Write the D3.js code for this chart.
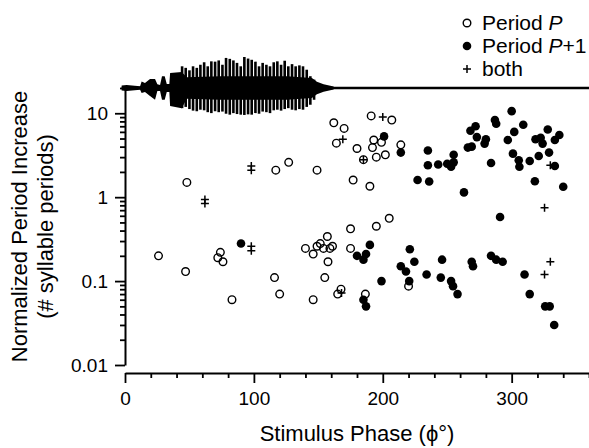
<!DOCTYPE html>
<html lang="en">
    <head>
        <meta charset="utf-8">
        <title>Period increase vs stimulus phase</title>
        <script type="text/javascript" src="https://d3js.org/d3.v7.min.js"></script>
        <style type="text/css">
            body {
                margin: 0;
                background-color: white;
            }
            svg text {
                font-family: "Liberation Sans", Arial, Helvetica, sans-serif;
                fill: black;
            }
            .tick text {
                font-size: 19px;
            }
            .axis_title {
                font-size: 22px;
            }
            .legend_text {
                font-size: 21px;
            }
        </style>
    </head>
    <body>
        <svg width="589" height="448" id="svg1"></svg>

        <script type="text/javascript">

            // open circles: period P  [phase, normalized period increase]
            const periodP = [
                [162, 7.7], [170, 6.6], [164, 4.4], [180, 3.8], [117, 2.1], [127, 2.6], [149, 2.1],
                [177, 1.6], [48, 1.5], [191, 9.3], [207, 8.3], [193, 4.8], [199, 4.5], [192, 3.9],
                [214, 4.2], [185, 2.8], [195, 3.0], [202, 3.2], [190, 1.35], [205, 0.56],
                [26, 0.2], [47, 0.13], [74, 0.22], [72, 0.19], [76, 0.17], [83, 0.06], [116, 0.11],
                [120, 0.07], [140, 0.245], [146, 0.21], [149, 0.26], [151.5, 0.28], [154, 0.245],
                [157, 0.34], [159, 0.245], [161, 0.26], [157.5, 0.17], [155, 0.11], [146, 0.06],
                [175, 0.42], [175, 0.245], [167.6, 0.08], [165, 0.07], [195, 0.45], [220, 0.087],
                [186.5, 0.07]
            ];

            // filled circles: period P+1
            const periodP1 = [
                [201, 5.3], [214, 3.4], [235, 3.6], [235, 2.4], [243, 2.45], [250, 2.5], [255, 3.2],
                [255, 2.6], [253, 2.3], [227, 1.6], [236, 1.54], [263, 1.14], [266, 3.9], [269, 4.0],
                [268, 6.2], [272, 7.0], [273, 5.2], [280, 4.9], [279, 4.35], [287, 8.3], [288, 7.5],
                [300, 10.6], [309, 7.3], [302, 6.0], [297, 4.8], [284, 2.55], [301, 3.3], [305.5, 2.75],
                [306, 2.3], [314, 2.7], [321, 3.1], [329, 3.4], [318.5, 4.9], [322.5, 5.1], [328, 6.4],
                [324, 4.35], [333.5, 4.8], [337, 5.5], [333.5, 2.35], [318, 1.55], [340, 1.33], [291, 0.58],
                [90, 0.28], [190, 0.27], [187, 0.21], [180, 0.2], [185, 0.18], [221, 0.24], [224.5, 0.17],
                [214, 0.15], [218, 0.13], [246, 0.18], [245, 0.11], [234, 0.12], [220.5, 0.1], [199, 0.1],
                [253, 0.1], [254.5, 0.087], [258, 0.07], [269, 0.17], [270, 0.15], [284, 0.2], [288, 0.18],
                [293, 0.17], [310, 0.12], [314, 0.07], [326, 0.05], [329.5, 0.05], [185, 0.06], [187, 0.05],
                [333, 0.03]
            ];

            // crosses: both
            const both = [
                [169, 4.9], [200, 9.0], [98, 2.1], [98, 2.35], [62, 0.84], [62, 0.94], [98, 0.23],
                [98, 0.26], [185, 2.8], [330, 2.4], [325.5, 0.75], [325.5, 0.12], [330, 0.17], [168, 0.072]
            ];

            // axis ticks
            const xMajor = [0, 100, 200, 300];
            const xMinor = [20, 40, 60, 80, 120, 140, 160, 180, 220, 240, 260, 280, 320, 340, 360];
            const yMajor = [0.01, 0.1, 1, 10];

            // stimulus oscillogram drawn on top (phase, amplitude in % of max)
            const envPhase = [-2.6, 1.3, 11.7, 12.9, 15.5, 19.4, 23.3, 25.1, 27.2, 28.7, 30.8, 32.4, 34.4,
                              35.0, 44.0, 47.9, 73.8, 125.6, 145.0, 148.9, 154.1, 161.9];
            const envTop    = [8, 10, 6, 21, 16, 29, 29, 12, 10, 38, 38, 13, 13, 48, 52, 35, 38, 38, 32, 20, 12, 5];
            const envBottom = [8, 10, 6, 16, 13, 26, 38, 10, 10, 38, 38, 13, 13, 58, 65, 35, 38, 38, 32, 20, 12, 5];

            const pulsePhase = [44.3, 47.1, 50.0, 52.8, 55.7, 58.5, 61.4, 64.2, 67.0, 69.9, 72.7, 75.6, 78.4,
                                81.3, 84.1, 86.9, 89.8, 92.6, 95.5, 98.3, 101.2, 104.0, 106.8, 109.7, 112.5,
                                115.4, 118.2, 121.1, 123.9, 126.7, 129.6, 132.4, 135.3, 138.1, 141.0, 143.8, 146.7];
            const pulseTop    = [70, 65, 57, 70, 65, 75, 83, 70, 86, 85, 89, 75, 97, 94, 89, 81, 70, 100, 95,
                                 91, 85, 70, 81, 75, 70, 83, 86, 75, 88, 70, 77, 70, 73, 70, 59, 38, 27];
            const pulseBottom = [65, 61, 68, 73, 75, 70, 72, 78, 81, 75, 78, 76, 83, 86, 81, 84, 86, 87, 85,
                                 86, 81, 83, 76, 78, 81, 72, 70, 73, 68, 65, 70, 72, 68, 70, 61, 54, 38];

            const svg = d3.select("#svg1");

            const x = d3.scaleLinear().domain([0, 360]).range([125, 589]);
            const y = d3.scaleLog().domain([0.01, 20]).range([365, 88]);
            const xAxisY = 373;

            // waveform amplitude scale, centred on the top of the y axis
            const base = y(20);
            const wy = d3.scaleLinear().domain([-100, 100]).range([base + 31, base - 31]);

            // ---- axes ----
            svg.append("g")
                .attr("transform", "translate(125,0)")
                .call(d3.axisLeft(y).tickValues(yMajor).tickFormat(d3.format("~g"))
                    .tickSize(10).tickPadding(7).tickSizeOuter(0));

            svg.append("g")
                .attr("transform", "translate(125,0)")
                .call(d3.axisLeft(y).tickValues(y.ticks().filter(d => yMajor.indexOf(d) < 0))
                    .tickFormat("").tickSize(5).tickSizeOuter(0))
                .select(".domain").remove();

            svg.append("g")
                .attr("transform", "translate(0," + xAxisY + ")")
                .call(d3.axisBottom(x).tickValues(xMajor).tickFormat(d3.format("d"))
                    .tickSize(10).tickPadding(9).tickSizeOuter(0));

            svg.append("g")
                .attr("transform", "translate(0," + xAxisY + ")")
                .call(d3.axisBottom(x).tickValues(xMinor).tickFormat("")
                    .tickSize(5).tickSizeOuter(0))
                .select(".domain").remove();

            svg.selectAll(".domain").attr("stroke-width", 2);
            svg.selectAll(".tick line").attr("stroke-width", 1.8);
            svg.selectAll(".tick text").style("font-size", "19px");

            // axis titles
            svg.append("text")
                .attr("class", "axis_title")
                .attr("x", x(180))
                .attr("y", 441)
                .attr("text-anchor", "middle")
                .text("Stimulus Phase (\u03D5\u00B0)");

            const yTitle = svg.append("g")
                .attr("transform", "translate(0," + (y(0.01) + y(20)) / 2 + ") rotate(-90)");
            yTitle.append("text")
                .attr("class", "axis_title")
                .attr("y", 27)
                .attr("text-anchor", "middle")
                .text("Normalized Period Increase");
            yTitle.append("text")
                .attr("class", "axis_title")
                .attr("y", 53)
                .attr("text-anchor", "middle")
                .text("(# syllable periods)");

            // ---- stimulus waveform ----
            const env = envPhase.map((p, i) => [p, envTop[i], envBottom[i]]);
            svg.append("path")
                .datum(env)
                .attr("fill", "black")
                .attr("d", d3.area()
                    .x(d => x(d[0]))
                    .y0(d => wy(-d[2]))
                    .y1(d => wy(d[1])));

            svg.append("line")
                .attr("x1", x(envPhase[0]))
                .attr("x2", x(360))
                .attr("y1", base)
                .attr("y2", base)
                .attr("stroke", "black")
                .attr("stroke-width", 2.6);

            svg.selectAll("line.pulse")
                .data(pulsePhase)
                .enter()
                .append("line")
                .attr("class", "pulse")
                .attr("x1", d => x(d))
                .attr("x2", d => x(d))
                .attr("y1", (d, i) => wy(pulseTop[i]))
                .attr("y2", (d, i) => wy(-pulseBottom[i]))
                .attr("stroke", "black")
                .attr("stroke-width", 2.6);

            // ---- data points ----
            svg.selectAll("circle.open")
                .data(periodP)
                .enter()
                .append("circle")
                .attr("class", "open")
                .attr("cx", d => x(d[0]))
                .attr("cy", d => y(d[1]))
                .attr("r", 3.8)
                .style("fill", "none")
                .style("stroke", "black")
                .style("stroke-width", 1.4);

            svg.selectAll("circle.filled")
                .data(periodP1)
                .enter()
                .append("circle")
                .attr("class", "filled")
                .attr("cx", d => x(d[0]))
                .attr("cy", d => y(d[1]))
                .attr("r", 4.3)
                .style("fill", "black");

            function plusPath(px, py, s) {
                return "M" + (px - s) + "," + py + "H" + (px + s) + "M" + px + "," + (py - s) + "V" + (py + s);
            }
            svg.selectAll("path.both")
                .data(both)
                .enter()
                .append("path")
                .attr("class", "both")
                .attr("d", d => plusPath(x(d[0]), y(d[1]), 4))
                .style("stroke", "black")
                .style("stroke-width", 1.5)
                .style("fill", "none");

            // ---- legend ----
            const legend = svg.append("g");
            const rows = [23, 46, 69];

            legend.append("circle")
                .attr("cx", 467).attr("cy", rows[0]).attr("r", 3.8)
                .style("fill", "none").style("stroke", "black").style("stroke-width", 1.4);
            legend.append("circle")
                .attr("cx", 467).attr("cy", rows[1]).attr("r", 4.3)
                .style("fill", "black");
            legend.append("path")
                .attr("d", plusPath(467, rows[2], 4))
                .style("stroke", "black").style("stroke-width", 1.5);

            const t1 = legend.append("text").attr("class", "legend_text")
                .attr("x", 482).attr("y", rows[0] + 7);
            t1.append("tspan").text("Period ");
            t1.append("tspan").style("font-style", "italic").text("P");

            const t2 = legend.append("text").attr("class", "legend_text")
                .attr("x", 482).attr("y", rows[1] + 7);
            t2.append("tspan").text("Period ");
            t2.append("tspan").style("font-style", "italic").text("P");
            t2.append("tspan").text("+1");

            legend.append("text").attr("class", "legend_text")
                .attr("x", 482).attr("y", rows[2] + 7)
                .text("both");

        </script>
    </body>
</html>
